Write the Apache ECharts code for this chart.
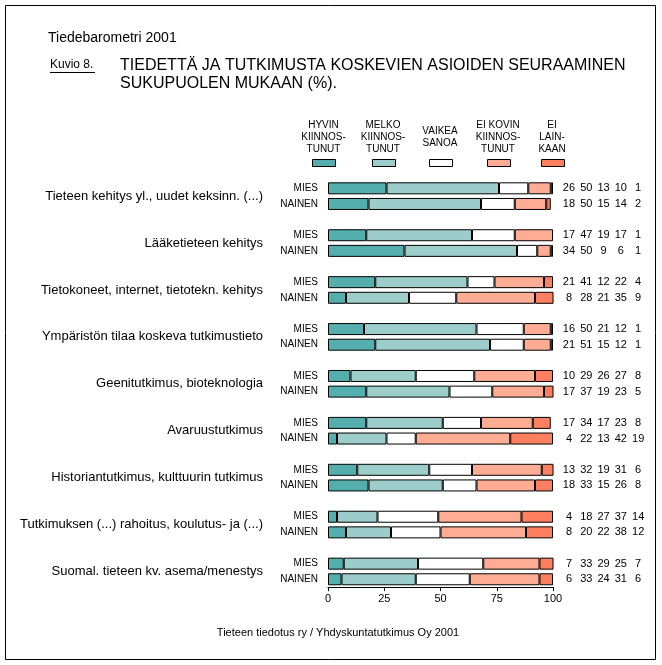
<!DOCTYPE html>
<html><head><meta charset="utf-8">
<script src="https://cdn.jsdelivr.net/npm/echarts@6/dist/echarts.min.js"></script>
<style>html,body{margin:0;padding:0;background:#fff}#c{width:662px;height:665px}</style>
</head><body><div id="c"></div>
<script>
// ---- data ----
const groups = [
  'Tieteen kehitys yl., uudet keksinn. (...)',
  'Lääketieteen kehitys',
  'Tietokoneet, internet, tietotekn. kehitys',
  'Ympäristön tilaa koskeva tutkimustieto',
  'Geenitutkimus, bioteknologia',
  'Avaruustutkimus',
  'Historiantutkimus, kulttuurin tutkimus',
  'Tutkimuksen (...) rahoitus, koulutus- ja (...)',
  'Suomal. tieteen kv. asema/menestys'
];
const genders = ['MIES', 'NAINEN'];
const seriesNames = ['HYVIN\nKIINNOS-\nTUNUT', 'MELKO\nKIINNOS-\nTUNUT', 'VAIKEA\nSANOA', 'EI KOVIN\nKIINNOS-\nTUNUT', 'EI\nLAIN-\nKAAN'];
const colors = ['#54AEAE', '#9CCDCA', '#FFFFFF', '#FFAC94', '#FF8060'];
// rows: MIES, NAINEN for each group in order
const hyvin   = [26,18, 17,34, 21, 8, 16,21, 10,17, 17, 4, 13,18,  4, 8,  7, 6];
const melko   = [50,50, 47,50, 41,28, 50,51, 29,37, 34,22, 32,33, 18,20, 33,33];
const vaikea  = [13,15, 19, 9, 12,21, 21,15, 26,19, 17,13, 19,15, 27,22, 29,24];
const eiKovin = [10,14, 17, 6, 22,35, 12,12, 27,23, 23,42, 31,26, 37,38, 25,31];
const eiLain  = [ 1, 2,  1, 1,  4, 9,  1, 1,  8, 5,  8,19,  6, 8, 14,12,  7, 6];
const xTicks = [0, 25, 50, 75, 100];
const title1 = 'Tiedebarometri 2001';
const kuvio = 'Kuvio 8.';
const title2 = 'TIEDETTÄ JA TUTKIMUSTA KOSKEVIEN ASIOIDEN SEURAAMINEN\nSUKUPUOLEN MUKAAN (%).';
const footer = 'Tieteen tiedotus ry / Yhdyskuntatutkimus Oy 2001';

// ---- build slots ----
const allSeries = [hyvin, melko, vaikea, eiKovin, eiLain];
const slots = []; // row index or null for spacer
groups.forEach((g, i) => {
  slots.push(2 * i); slots.push(2 * i + 1);
  if (i < groups.length - 1) slots.push(null);
});
const slotIds = slots.map((r, k) => 's' + k);
const boundaryIds = [];
for (let j = 0; j <= slots.length; j++) boundaryIds.push('b' + j);

const FONT = '"Liberation Sans", Arial, sans-serif';

const chart = echarts.init(document.getElementById('c'), null, {renderer: 'canvas'});

const legendGraphics = [];
const legendX = [323.5, 383, 440, 498, 552];
seriesNames.forEach((n, i) => {
  legendGraphics.push({
    type: 'text', silent: true,
    style: {text: n, x: legendX[i], y: 137.5, align: 'center', verticalAlign: 'middle',
      fontSize: 10, fontFamily: FONT, lineHeight: 12, fill: '#000'}
  });
  legendGraphics.push({
    type: 'rect', silent: true,
    shape: {x: Math.round(legendX[i] - 11.5) + 0.5, y: 159.5, width: 23, height: 7},
    style: {fill: colors[i], stroke: '#000', lineWidth: 1}
  });
});

const option = {
  animation: false,
  backgroundColor: '#fff',
  textStyle: {fontFamily: FONT},
  grid: {left: 328, right: 109, top: 180.5, height: 406.6},
  xAxis: {
    type: 'value', min: xTicks[0], max: xTicks[xTicks.length - 1], interval: 25,
    axisLine: {show: true, lineStyle: {color: '#000', width: 1}},
    axisTick: {show: true, length: 4, lineStyle: {color: '#000'}},
    splitLine: {show: false},
    axisLabel: {color: '#000', fontSize: 11, fontFamily: FONT, margin: 6}
  },
  yAxis: [
    {
      type: 'category', inverse: true, data: slotIds, position: 'left',
      axisLine: {show: false}, axisTick: {show: false}, splitLine: {show: false},
      axisLabel: {interval: 0, margin: 10, color: '#000', fontSize: 10, fontFamily: FONT,
        formatter: (v, idx) => slots[idx] === null ? '' : genders[slots[idx] % 2]}
    },
    {
      type: 'category', inverse: true, data: boundaryIds, position: 'left', boundaryGap: false,
      axisLine: {show: false}, axisTick: {show: false}, splitLine: {show: false},
      axisLabel: {interval: 0, margin: 65, color: '#000', fontSize: 13, fontFamily: FONT,
        padding: [0, 0, 7, 0],
        formatter: (v, idx) => idx % 3 === 1 ? groups[(idx - 1) / 3] : ''}
    },
    {
      type: 'category', inverse: true, data: slotIds, position: 'right',
      axisLine: {show: false}, axisTick: {show: false}, splitLine: {show: false},
      axisLabel: {interval: 0, margin: 7.3, color: '#000', fontSize: 11, fontFamily: FONT, align: 'left',
        formatter: (v, idx) => {
          const r = slots[idx];
          if (r === null) return '';
          return allSeries.map(a => '{c|' + a[r] + '}').join('');
        },
        rich: {c: {width: 17.3, align: 'center', fontSize: 11, fontFamily: FONT, color: '#000'}}
      }
    }
  ],
  series: allSeries.map((arr, i) => ({
    type: 'bar', name: seriesNames[i], stack: 'total', yAxisIndex: 0, barWidth: 12,
    silent: true,
    itemStyle: {color: colors[i], borderColor: '#000', borderWidth: 1},
    data: slots.map(r => r === null ? '-' : arr[r])
  })),
  graphic: [
    {type: 'rect', silent: true, shape: {x: 5.5, y: 5.5, width: 650, height: 654},
      style: {fill: 'none', stroke: '#000', lineWidth: 1}},
    {type: 'text', silent: true, style: {text: title1, x: 48, y: 38.5, verticalAlign: 'middle',
      fontSize: 14, fontFamily: FONT, fill: '#000'}},
    {type: 'text', silent: true, style: {text: kuvio, x: 50, y: 64.5, verticalAlign: 'middle',
      fontSize: 12, fontFamily: FONT, fill: '#000'}},
    {type: 'line', silent: true, shape: {x1: 50, y1: 72.5, x2: 95, y2: 72.5},
      style: {stroke: '#000', lineWidth: 1}},
    {type: 'text', silent: true, style: {text: title2, x: 120, y: 75, verticalAlign: 'middle',
      fontSize: 16, lineHeight: 18, fontFamily: FONT, fill: '#000'}},
    {type: 'text', silent: true, style: {text: footer, x: 338, y: 633, align: 'center', verticalAlign: 'middle',
      fontSize: 11, fontFamily: FONT, fill: '#000'}}
  ].concat(legendGraphics)
};
chart.setOption(option);
</script></body></html>
